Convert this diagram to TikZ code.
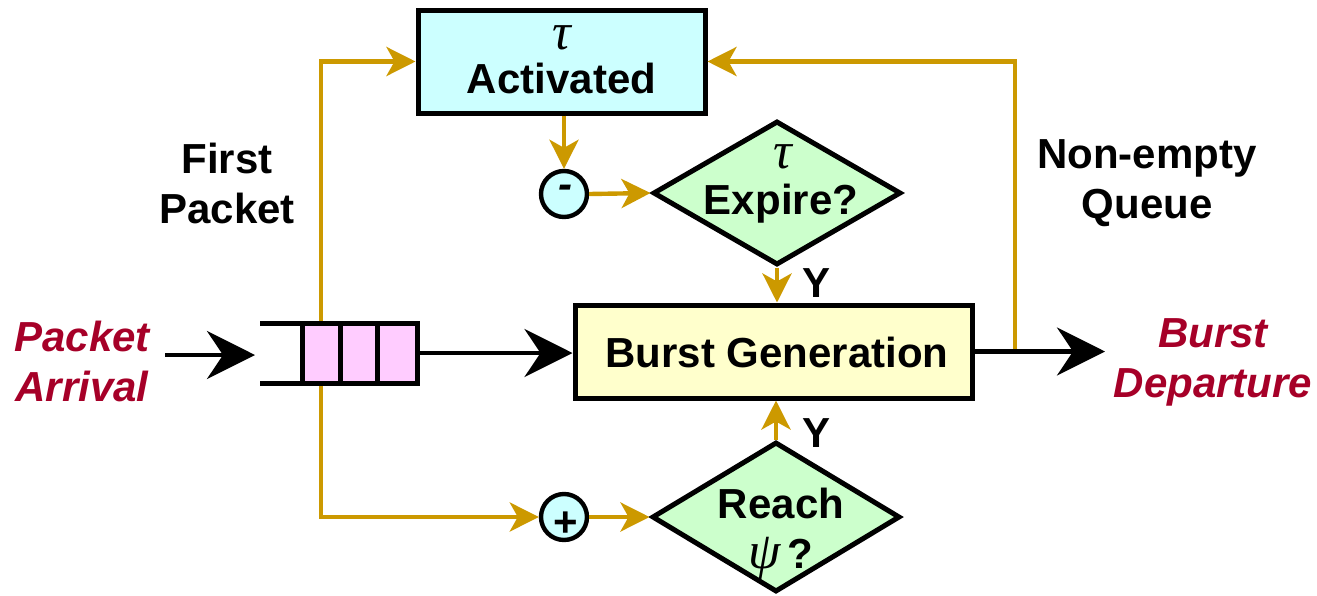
\documentclass[tikz,border=0pt]{standalone}
\usepackage{fontspec}
\setmainfont{Liberation Sans}
\newfontfamily\greekserif{Liberation Serif}
\usetikzlibrary{arrows.meta,shapes.geometric}
\definecolor{flowgold}{RGB}{204,153,0}
\definecolor{labelred}{RGB}{166,0,40}
\definecolor{boxcyan}{RGB}{204,255,255}
\definecolor{boxyellow}{RGB}{255,255,204}
\definecolor{diagreen}{RGB}{204,255,204}
\definecolor{queuepink}{RGB}{255,204,255}
\newcommand{\grk}[1]{{\greekserif\itshape\mdseries\fontsize{26}{26}\selectfont #1}}
\tikzset{
  txt/.style={font=\fontsize{21}{25}\selectfont\bfseries, align=center, inner sep=0pt},
  redtxt/.style={txt, font=\fontsize{21}{25}\selectfont\bfseries\itshape, text=labelred},
  procbox/.style={draw=black, line width=2.5pt, inner sep=0pt},
  decision/.style={diamond, draw=black, line width=2.5pt, fill=diagreen, inner sep=0pt},
  counter/.style={circle, draw=black, line width=2.2pt, fill=boxcyan, inner sep=0pt, minimum size=23pt},
  goldflow/.style={draw=flowgold, line width=2.2pt, -{Stealth[length=14.5pt,width=14.5pt,inset=4pt]}},
  blackflow/.style={draw=black, line width=2.2pt, -{Stealth[length=24pt,width=24pt,inset=8pt]}},
}
\begin{document}
\begin{tikzpicture}[x=0.5pt,y=-0.5pt]
\useasboundingbox (0,0) rectangle (1317,595);

% main blocks
\node[procbox, fill=boxcyan, minimum width=143.5pt, minimum height=51.5pt] (act) at (561.5,61.5) {};
\node[txt] (acttau) at (561.5,38) {\grk{τ}};
\node[txt] (acttxt) at (561.5,78) {Activated};

\node[procbox, fill=boxyellow, minimum width=198.5pt, minimum height=46.5pt] (burst) at (773.5,351.5) {};
\node[txt] (bursttxt) at (777,352) {Burst Generation};

\node[decision, minimum width=124pt, minimum height=72pt] (exp) at (777,193) {};
\node[txt] (exptau) at (783,157) {\grk{τ}};
\node[txt] (exptxt) at (781,204) {Expire?};

\node[decision, minimum width=124pt, minimum height=75pt] (reach) at (776,517) {};
\node[txt] (reachtxt) at (781,503) {Reach};
\node[txt, text depth=0pt, text height=10pt] (reachpsi) at (781,558) {\grk{ψ}\,?};

\node[counter] (minus) at (564,194) {};
\node[txt] (minustxt) at (565,192) {\textit{-}};
\node[counter] (plus) at (564,517) {};
\node[txt] (plustxt) at (566,524) {+};

% branch points on the data path
\coordinate (fork) at (321,352);
\coordinate (tap) at (1015,351.5);

% control (gold) paths, drawn beneath the queue
\draw[goldflow] (fork) |- (act.west);
\draw[goldflow] (fork) |- (plus.west);
\draw[goldflow] (minus.north |- act.south) -- (minus.north);
\draw[goldflow] (minus.east) -- (exp.west);
\draw[goldflow] (exp.south) -- (exp.south |- burst.north);
\draw[goldflow] (reach.north) -- (reach.north |- burst.south);
\draw[goldflow] (plus.east) -- (reach.west);
\draw[goldflow] (tap) |- (act.east);

% packet queue: three slots with an open mouth on the left
\node[procbox, fill=queuepink, minimum width=57.5pt, minimum height=30pt] (queue) at (359.5,353) {};
\draw[line width=2.5pt] (340,323) -- (340,383) (377,323) -- (377,383);
\draw[line width=2.5pt] (302,323) -- (260,323);
\draw[line width=2.5pt] (302,383) -- (260,383);

% data (black) paths
\coordinate (inlet) at (165,355);
\coordinate (qin) at (255,355);
\coordinate (outlet) at (1105,351.5);
\draw[blackflow] (inlet) -- (qin);
\draw[blackflow] (queue.east) -- (queue.east -| burst.west);
\draw[blackflow] (burst.east) -- (outlet);

% labels
\node[txt] (ylabtop) at (816,283) {Y};
\node[txt] (ylabbot) at (816,433) {Y};
\node[txt] (firstpk) at (227,183) {First\\Packet};
\node[txt] (nonempty) at (1147,183) {Non-empty\\Queue};
\node[redtxt] (arrival) at (82,361) {Packet\\Arrival};
\node[redtxt] (departure) at (1213,362) {Burst\\Departure};
\end{tikzpicture}
\end{document}
